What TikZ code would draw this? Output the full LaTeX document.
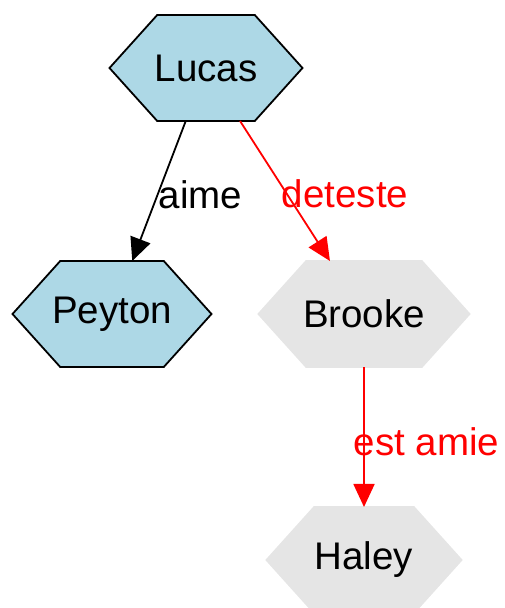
\documentclass[tikz,border=0pt]{standalone}
\usepackage{fontspec}
\setmainfont{Liberation Sans}
\usetikzlibrary{arrows.meta,shapes.symbols}
\definecolor{lightblue}{RGB}{173,216,230}
\definecolor{grey90}{RGB}{229,229,229}
\begin{document}
\begin{tikzpicture}[
x=1pt, y=-1pt,
 >={Triangle[length=23pt,width=21pt]},
    H/.style = {signal, signal to=west and east, signal pointer angle=96,% hexagon nodes
                minimum height=106pt, inner xsep=-60pt, inner ysep=0pt, outer sep=0pt,
                font=\fontsize{38.5}{46}\selectfont, line width=1.8pt},
    B/.style = {H, draw=black, fill=lightblue},
    G/.style = {H, draw=grey90, fill=grey90},
    E/.style = {anchor=west, inner sep=0pt,% edge labels
                font=\fontsize{38.5}{46}\selectfont},
                        ]
\useasboundingbox (0,0) rectangle (504,608);
\node[B, minimum width=193pt] (Lucas)  at (206,68)  {Lucas};
\node[B, minimum width=199pt] (Peyton) at (112,314) {Peyton};
\foreach \n/\y/\w in {Brooke/314/211,Haley/560/195}% <-- grey nodes
    \node[G, minimum width=\w pt] (\n) at (364,\y) {\n};
\draw[->, line width=1.8pt] (Lucas) -- node[E, xshift=-1pt, yshift=-4pt] {aime} (Peyton);
\draw[->, line width=1.8pt, red] (Lucas) -- node[E, xshift=-4pt, yshift=-3pt, red] {deteste} (Brooke);
\draw[->, line width=1.8pt, red] (Brooke) -- node[E, xshift=-11pt, yshift=-5pt, red] {est amie} (Haley);
\end{tikzpicture}
\end{document}
